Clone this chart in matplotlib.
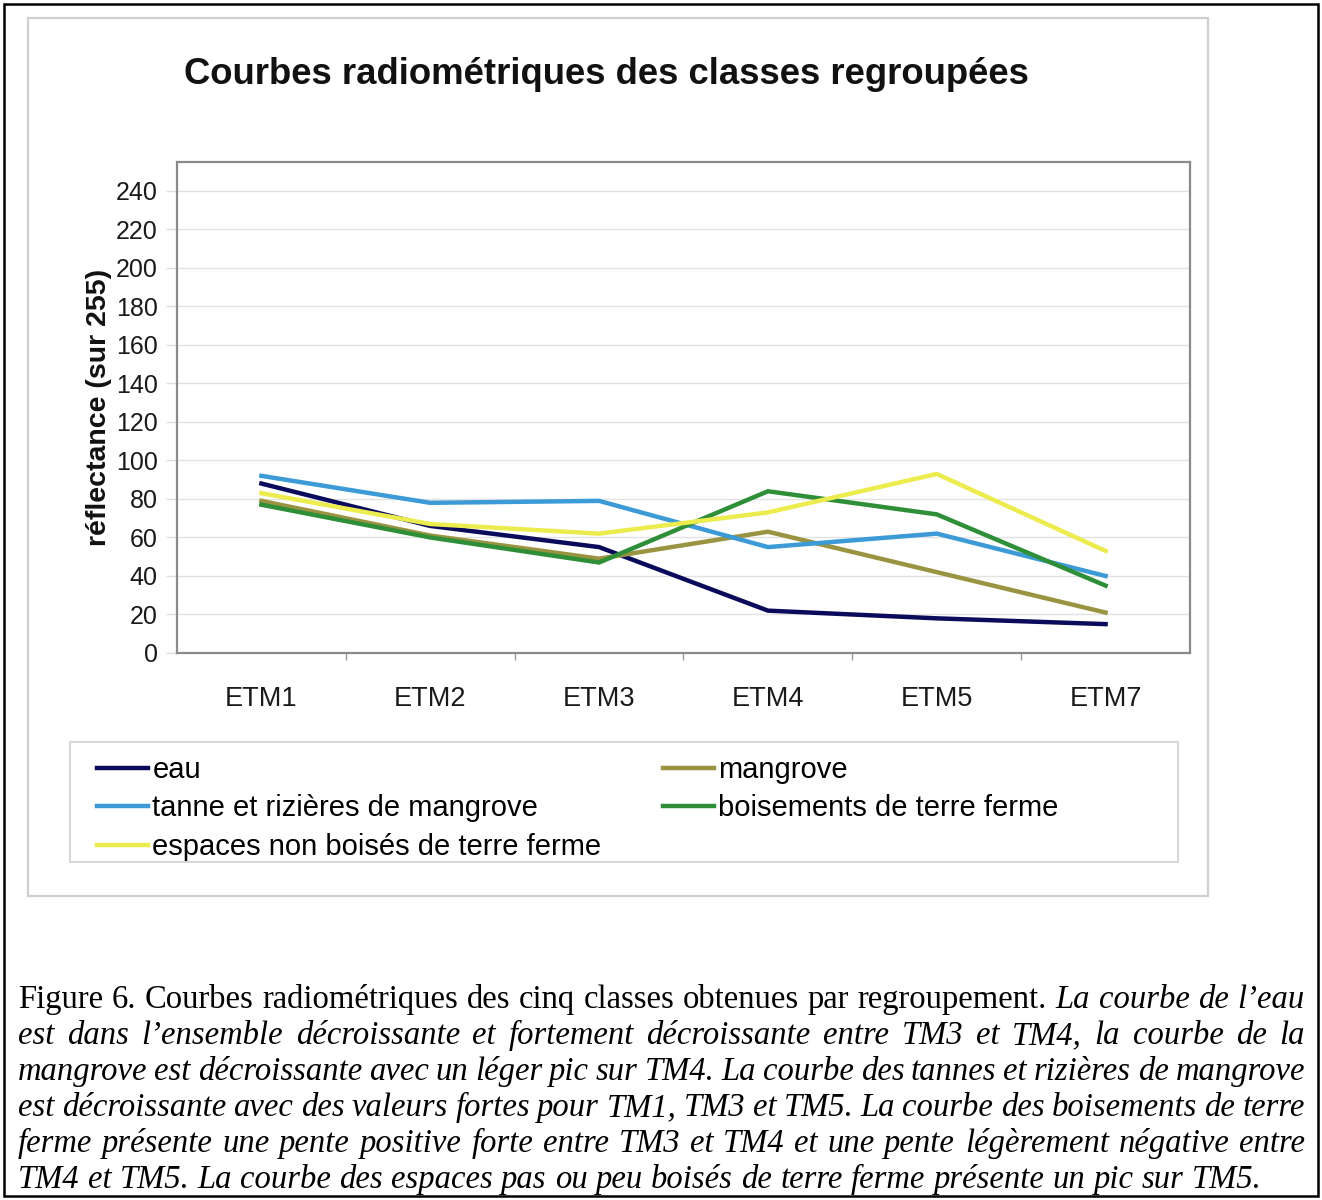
import matplotlib
matplotlib.use("Agg")
import matplotlib.pyplot as plt
from matplotlib.patches import Rectangle
from matplotlib.transforms import IdentityTransform

# ---------------- data ----------------
categories = ["ETM1", "ETM2", "ETM3", "ETM4", "ETM5", "ETM7"]
eau = [88, 66, 55, 22, 18, 15]
mangrove = [79, 61, 49, 63, 42, 21]
tanne = [92, 78, 79, 55, 62, 40]
boisements = [77, 60, 47, 84, 72, 35]
espaces = [83, 67, 62, 73, 93, 53]
series_names = ["eau", "mangrove", "tanne et rizières de mangrove",
                "boisements de terre ferme", "espaces non boisés de terre ferme"]
series_values = [eau, mangrove, tanne, boisements, espaces]
series_colors = ["#0b0b5c", "#9a9442", "#3c9ad6", "#2f8f38", "#ecec4e"]
y_ticks = list(range(0, 241, 20))

title = "Courbes radiométriques des classes regroupées"
ylabel = "réflectance (sur 255)"

caption_lines = [
    [("Figure 6. Courbes radiométriques des cinq classes obtenues par regroupement.", "normal"),
     ("La courbe de l’eau", "italic")],
    [("est dans l’ensemble décroissante et fortement décroissante entre TM3 et TM4, la courbe de la", "italic")],
    [("mangrove est décroissante avec un léger pic sur TM4. La courbe des tannes et rizières de mangrove", "italic")],
    [("est décroissante avec des valeurs fortes pour TM1, TM3 et TM5. La courbe des boisements de terre", "italic")],
    [("ferme présente une pente positive forte entre TM3 et TM4 et une pente légèrement négative entre", "italic")],
    [("TM4 et TM5. La courbe des espaces pas ou peu boisés de terre ferme présente un pic sur TM5.", "italic")],
]

# ---------------- figure ----------------
W, H = 1322, 1200
fig = plt.figure(figsize=(W / 100, H / 100), dpi=100)
fig.patch.set_facecolor("white")

def fx(px):
    return px / W

def fy(py):
    return 1 - py / H

def frect(x0, y0, x1, y1, **kw):
    r = Rectangle((fx(x0), fy(y1)), fx(x1) - fx(x0), fy(y0) - fy(y1),
                  transform=fig.transFigure, fill=False, **kw)
    fig.add_artist(r)

# outer black frame
frect(4, 4, 1318, 1196, ec="black", lw=1.8)
# chart frame
frect(28, 18, 1208, 896, ec="#cfcfcf", lw=1.6)
# legend frame
frect(70, 742, 1178, 862, ec="#d6d6d6", lw=1.4)

sans = "Liberation Sans"

# plot area
L, R, T, B = 177, 1190, 162, 653
ax = fig.add_axes([fx(L), fy(B), fx(R) - fx(L), fy(T) - fy(B)])
x = list(range(len(categories)))
handles = []
for name, vals, col in zip(series_names, series_values, series_colors):
    (ln,) = ax.plot(x, vals, color=col, lw=3.2, label=name, solid_joinstyle="miter")
    handles.append(ln)

ax.set_xlim(-0.5, len(categories) - 0.5)
ax.set_ylim(0, 255)
ax.set_yticks(y_ticks)
ax.set_yticklabels([str(v) for v in y_ticks], fontsize=18, family=sans, color="#1a1a1a")
ax.set_xticks(x)
ax.set_xticklabels(categories, fontsize=19.5, family=sans, color="#1a1a1a")
ax.set_xticks([i + 0.5 for i in range(len(categories) - 1)], minor=True)
ax.tick_params(axis="x", which="major", length=0, pad=24)
ax.tick_params(axis="x", which="minor", length=5, width=1, color="#999999", direction="out")
ax.tick_params(axis="y", which="major", length=8, width=1, color="#dddddd", direction="out", pad=6)
ax.grid(axis="y", color="#e2e2e2", lw=1)
ax.set_axisbelow(True)
for s in ax.spines.values():
    s.set_color("#8a8a8a")
    s.set_linewidth(1.6)

# title and y label
fig.text(fx(606), fy(75), title, fontsize=26.3, fontweight="bold", family=sans,
         ha="center", va="center", color="#111111")
fig.text(fx(99), fy(407), ylabel, fontsize=20.5, fontweight="bold", family=sans,
         rotation=90, ha="center", va="center", color="#111111")

# legend (rows: eau | mangrove, tanne | boisements, espaces)
order = [0, 2, 4, 1, 3]
leg = fig.legend([handles[i] for i in order], [series_names[i] for i in order],
                 loc="upper left", bbox_to_anchor=(fx(97), fy(756)), frameon=False,
                 ncol=2, prop={"family": sans, "size": 21}, handlelength=1.75,
                 handletextpad=0.15, columnspacing=2.1, labelspacing=0.36,
                 borderpad=0, borderaxespad=0)
for h in leg.legend_handles:
    h.set_linewidth(3.2)

# caption, justified
renderer = fig.canvas.get_renderer()
serif = "Liberation Serif"
cx0, cx1 = 18, 1305
baselines = [1008, 1044, 1080, 1116, 1152, 1188]
for li, (segs, yb) in enumerate(zip(caption_lines, baselines)):
    words = []
    for text, st in segs:
        for w in text.split(" "):
            words.append((w, st))
    items = []
    for w, st in words:
        t = fig.text(0, 0, w, fontsize=23.5, family=serif, style=st,
                     transform=IdentityTransform(), ha="left", va="baseline", color="black")
        wd = t.get_window_extent(renderer).width
        items.append((t, wd))
    total = sum(wd for _, wd in items)
    last = li == len(caption_lines) - 1
    gap = (cx1 - cx0 - total) / (len(items) - 1)
    if last:
        gap = min(gap, 8.2)
    xpos = cx0
    for t, wd in items:
        t.set_position((xpos, H - yb))
        xpos += wd + gap

fig.savefig("out.png", dpi=100, facecolor="white")
